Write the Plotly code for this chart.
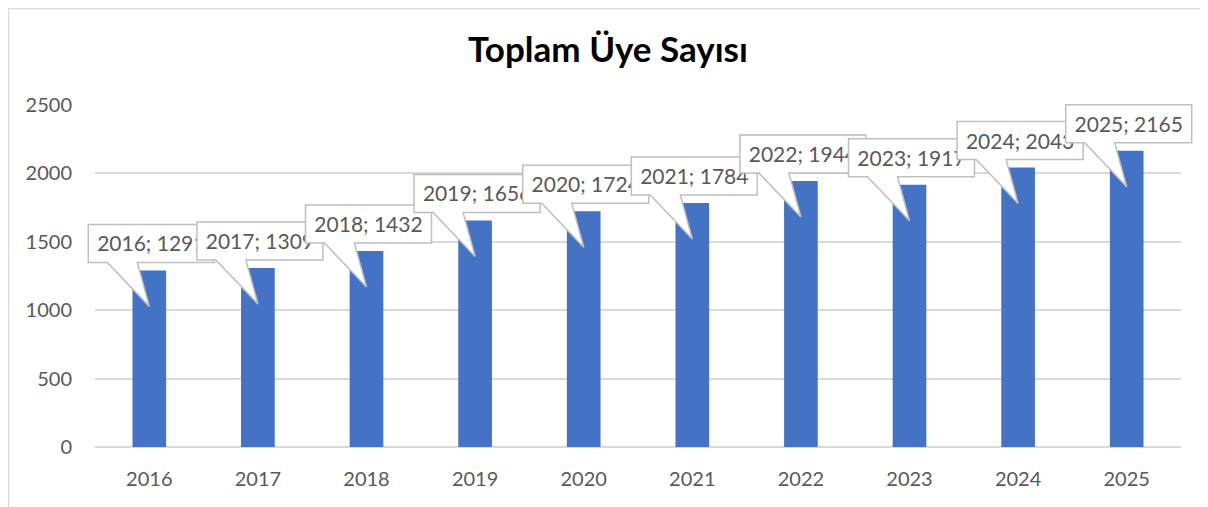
import plotly.graph_objects as go

years = [2016, 2017, 2018, 2019, 2020, 2021, 2022, 2023, 2024, 2025]
members = [1291, 1309, 1432, 1656, 1724, 1784, 1944, 1917, 2043, 2165]
y_ticks = [0, 500, 1000, 1500, 2000, 2500]

FONT = "Lato"
GRAY = "#595959"
X_RANGE = [2015.5, 2025.5]
Y_RANGE = [0, 2500]

fig = go.Figure()
fig.add_trace(go.Bar(
    x=years,
    y=members,
    width=0.31,
    marker=dict(color="#4472c4", line=dict(width=0)),
    hoverinfo="x+y",
))

# callout boxes in Excel style: box above the bar with a wedge pointing into it.
# anchored in paper coords so the boxes are not clipped at the plot edges
callout = "M -61,8 L -42,8 L 0,-36 L -12,8 L 65,8 L 65,46 L -61,46 Z"
for yr, v in zip(years, members):
    fig.add_shape(
        type="path",
        xref="paper", yref="paper",
        xsizemode="pixel", ysizemode="pixel",
        xanchor=(yr - X_RANGE[0]) / (X_RANGE[1] - X_RANGE[0]),
        yanchor=(v - Y_RANGE[0]) / (Y_RANGE[1] - Y_RANGE[0]),
        path=callout,
        fillcolor="white",
        line=dict(color="#bfbfbf", width=1.5),
        layer="above",
        label=dict(
            text=f"{yr}; {v}",
            font=dict(family=FONT, size=21, color=GRAY),
            textposition="top center",
            padding=6,
        ),
    )

# outer chart border (only left and top edges show in the frame)
fig.add_shape(
    type="rect", xref="paper", yref="paper",
    x0=-0.0797, x1=1.1, y0=-0.4, y1=1.2822,
    line=dict(color="#d9d9d9", width=1.5),
    fillcolor="rgba(0,0,0,0)",
    layer="below",
)

fig.update_layout(
    width=1200,
    height=499,
    margin=dict(l=87, r=27, t=97, b=60),
    paper_bgcolor="white",
    plot_bgcolor="white",
    showlegend=False,
    title=dict(
        text="<b>Toplam Üye Sayısı</b>",
        x=0.5, xanchor="center",
        y=0.916, yanchor="middle",
        font=dict(family=FONT, size=35, color="black"),
    ),
    font=dict(family=FONT, color=GRAY),
    xaxis=dict(
        tickmode="array",
        tickvals=years,
        ticktext=[str(y) for y in years],
        range=X_RANGE,
        showgrid=False,
        showline=False,
        zeroline=False,
        ticks="",
        ticklabelstandoff=18,
        tickfont=dict(family=FONT, size=20, color=GRAY),
    ),
    yaxis=dict(
        range=Y_RANGE,
        tickvals=y_ticks,
        gridcolor="#d9d9d9",
        gridwidth=1.5,
        zeroline=True,
        zerolinecolor="#d9d9d9",
        zerolinewidth=1.5,
        showline=False,
        ticks="",
        ticklabelstandoff=22,
        tickfont=dict(family=FONT, size=20, color=GRAY),
    ),
)

fig.write_html("out.html")
